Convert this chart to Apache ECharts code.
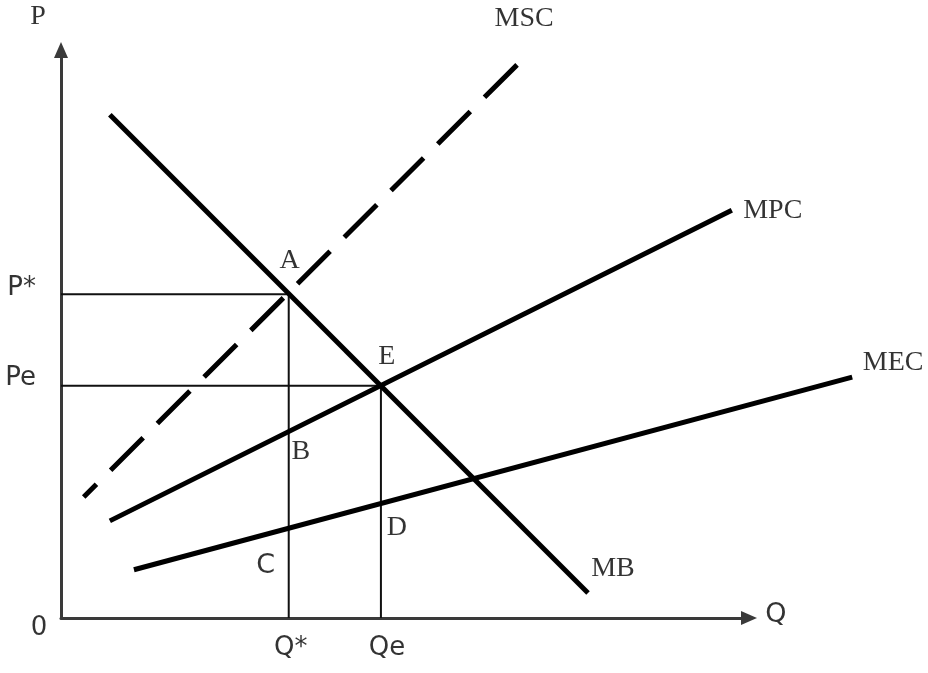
<!DOCTYPE html>
<html>
<head>
<meta charset="utf-8">
<script src="https://cdn.jsdelivr.net/npm/echarts@6/dist/echarts.min.js"></script>
<style>
  html, body { margin: 0; padding: 0; background: #fff; }
  #chart { width: 928px; height: 673px; }
</style>
</head>
<body>
<div id="chart"></div>
<script>
// 均衡点（坐标轴单位 0-100）
const qStar = 33.1
const qE = 46.5
const pStar = 57.0
const pE = 40.9

// 各曲线的两个端点（MEC 伸出横轴箭头之外）
const mbLine = [[7.1, 88.6], [76.6, 4.4]]
const mscLine = [[3.3, 21.3], [66.3, 97.4]]
const mpcLine = [[7.1, 17.1], [97.5, 71.8]]
const mecLine = [[10.6, 8.5], [115.0, 42.4]]

// 点标签与轴标签
const pointNames = ["A", "E", "B", "C", "D"]
const axisTickNames = ["P*", "Pe", "0", "Q*", "Qe"]

const serif = "Liberation Serif"
const sans = "DejaVu Sans"

// 沿直线求 y
const yOn = (line, x) => {
  const [[x0, y0], [x1, y1]] = line
  return y0 + ((y1 - y0) * (x - x0)) / (x1 - x0)
}

const chart = echarts.init(document.getElementById("chart"), null, { renderer: "canvas" })

// 曲线画在第二个（更宽的）grid 上，避免 MEC 被裁掉
const onWide = { xAxisIndex: 1, yAxisIndex: 1 }

const lineSeries = (name, data, extra) => ({
  name,
  type: "line",
  ...onWide,
  data,
  symbol: "none",
  clip: false,
  silent: true,
  lineStyle: { color: "#000", width: 5, ...extra },
  z: 3,
})

const guideStyle = { color: "#111", width: 2 }

// 标签挂在数据点上，用 offset 调整
const labelItem = (text, value, offset, font, size, align) => ({
  value,
  label: {
    show: true,
    position: "inside",
    formatter: text,
    offset,
    align: align || "center",
    verticalAlign: "middle",
    fontFamily: font,
    fontSize: size,
    color: "#000",
  },
})

const labelData = [
  labelItem(pointNames[0], [qStar, pStar], [1, -34], serif, 28),
  labelItem(pointNames[1], [qE, pE], [6, -29], serif, 28),
  labelItem(pointNames[2], [qStar, yOn(mpcLine, qStar)], [12, 20], serif, 28),
  labelItem(pointNames[3], [qStar, yOn(mecLine, qStar)], [-23, 38], sans, 27),
  labelItem(pointNames[4], [qE, yOn(mecLine, qE)], [16, 24], serif, 28),
  labelItem("MB", mbLine[1], [25, -24], serif, 28),
  labelItem("MSC", mscLine[1], [7, -46], serif, 28),
  labelItem("MPC", mpcLine[1], [41, 0], serif, 28),
  labelItem("MEC", mecLine[1], [41, -15], serif, 28),
  labelItem(axisTickNames[0], [0, pStar], [-25, -6], sans, 26, "right"),
  labelItem(axisTickNames[1], [0, pE], [-25, -7], sans, 26, "right"),
  labelItem(axisTickNames[2], [0, 0], [-22, 10], sans, 26),
  labelItem(axisTickNames[3], [qStar, 0], [2, 30], sans, 26),
  labelItem(axisTickNames[4], [qE, 0], [6, 30], sans, 26),
  labelItem("P", [0, 100], [-23, -33], serif, 28),
  labelItem("Q", [100, 0], [27, -3], sans, 27),
]

const axisCommon = {
  type: "value",
  min: 0,
  max: 100,
  splitLine: { show: false },
  axisTick: { show: false },
  axisLabel: { show: false },
  axisLine: {
    show: true,
    symbol: ["none", "triangle"],
    symbolSize: [14, 16],
    lineStyle: { color: "#3a3a3a", width: 3 },
  },
}

const hiddenAxis = {
  type: "value",
  min: 0,
  splitLine: { show: false },
  axisTick: { show: false },
  axisLabel: { show: false },
  axisLine: { show: false },
}

const option = {
  backgroundColor: "#fff",
  animation: false,
  grid: [
    { left: 61, top: 50, width: 688, height: 568 },
    { left: 61, top: 50, width: 688 * 1.2, height: 568 },
  ],
  xAxis: [
    { ...axisCommon, gridIndex: 0 },
    { ...hiddenAxis, gridIndex: 1, max: 120 },
  ],
  yAxis: [
    { ...axisCommon, gridIndex: 0 },
    { ...hiddenAxis, gridIndex: 1, max: 100 },
  ],
  series: [
    {
      type: "line",
      data: [[0, pStar], [qStar, pStar], [qStar, 0]],
      symbol: "none",
      silent: true,
      lineStyle: guideStyle,
      z: 2,
    },
    {
      type: "line",
      data: [[0, pE], [qE, pE], [qE, 0]],
      symbol: "none",
      silent: true,
      lineStyle: guideStyle,
      z: 2,
    },
    lineSeries("MB", mbLine),
    lineSeries("MSC", mscLine, { type: [46, 20], dashOffset: 28, cap: "butt" }),
    lineSeries("MPC", mpcLine),
    lineSeries("MEC", mecLine),
    {
      type: "scatter",
      ...onWide,
      data: labelData,
      symbolSize: 0,
      clip: false,
      silent: true,
      z: 5,
    },
  ],
}

chart.setOption(option)
</script>
</body>
</html>
